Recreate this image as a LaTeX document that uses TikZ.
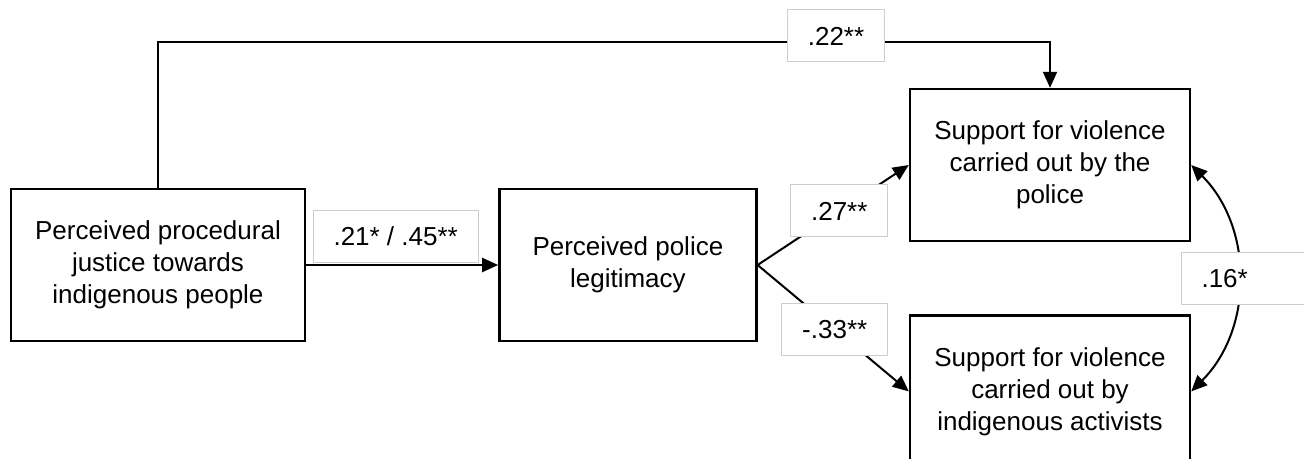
\documentclass[tikz,border=0pt]{standalone}
\usepackage{fontspec}
\setmainfont{Liberation Sans}
\usepackage{xcolor}
\usetikzlibrary{positioning, arrows.meta}
\definecolor{lblline}{RGB}{205, 205, 205}

\begin{document}
\begin{tikzpicture}[x=0.5pt, y=-0.5pt, >={Triangle[length=8pt, width=7pt]},
        var/.style={rectangle, draw=black, line width=1.2pt, minimum width=#1, minimum height=76pt, inner sep=0pt, align=center, font=\fontsize{13}{16}\selectfont},
        coef/.style={rectangle, draw=lblline, line width=0.5pt, fill=white, minimum width=#1, minimum height=26pt, inner sep=0pt, font=\fontsize{13}{16}\selectfont},
        link/.style={line width=1pt, ->}
    ]
        \useasboundingbox (0,0) rectangle (1304,459);

        \node (justice) [var=147pt] at (158,265) {Perceived procedural\\justice towards\\indigenous people};
        \node (legit) [var=128.5pt, right=96pt of justice] {Perceived police\\legitimacy};
        \node (police) [var=140pt] at (1050,165) {Support for violence\\carried out by the\\police};
        \node (activ) [var=140pt, below=36pt of police] {Support for violence\\carried out by\\indigenous activists};

        \coordinate (topline) at (836,42);

        \draw[link] (justice.north) |- (topline) node[coef=48.5pt, yshift=3pt] {.22**} -| (police.north);
        \draw[link] (justice) -- node[coef=82.5pt, above=1pt, pos=0.466] {.21* / .45**} (legit);
        \draw[link] (legit.east) -- node[coef=48.5pt, pos=0.54] {.27**} (police.west);
        \draw[link] (legit.east) -- node[coef=53pt, pos=0.51] {-.33**} (activ.west);

        % correlation between the two outcomes
        \draw[line width=1pt, <->] (police.east) to[bend left=45] node[coef=65pt, anchor=west, xshift=-28.5pt, text width=45pt, inner xsep=10pt, align=left] {.16*} (activ.east);
    \end{tikzpicture}
\end{document}
